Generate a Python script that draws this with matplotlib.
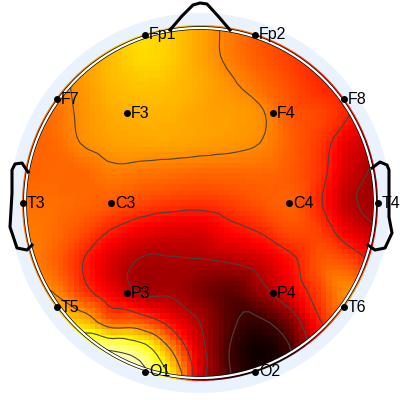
import numpy as np
import matplotlib
matplotlib.use("Agg")
import matplotlib.pyplot as plt
import matplotlib.tri as mtri
from matplotlib.patches import Circle

channels = ["Fp1", "Fp2", "F7", "F3", "F4", "F8", "T3", "C3", "C4", "T4", "T5", "P3", "P4", "T6", "O1", "O2"]
chan_x = [145, 255, 57, 127, 273, 344, 23, 111, 289, 378, 57, 127, 273, 344, 145, 255]
chan_y = [35, 35, 99, 113, 113, 99, 203, 203, 203, 203, 307, 293, 293, 307, 372, 372]

grid_x = [20, 50, 80, 110, 140, 170, 200, 230, 260, 290, 320, 350, 380]
grid_y = [23, 53, 83, 113, 143, 173, 203, 233, 263, 293, 323, 353, 383]
# activity, rows run top to bottom, scaled to the colormap
activity = [
    [.56, .56, .60, .65, .69, .67, .61, .55, .50, .46, .42, .40, .36],
    [.56, .56, .60, .65, .69, .67, .61, .55, .50, .46, .42, .40, .36],
    [.53, .53, .59, .64, .66, .65, .62, .58, .53, .48, .43, .40, .32],
    [.52, .53, .58, .62, .63, .63, .61, .60, .58, .50, .47, .41, .28],
    [.51, .52, .57, .60, .61, .61, .60, .59, .57, .51, .45, .33, .26],
    [.51, .52, .52, .55, .54, .53, .52, .52, .52, .50, .44, .30, .22],
    [.53, .53, .52, .50, .47, .45, .44, .46, .49, .51, .42, .27, .22],
    [.55, .53, .48, .40, .34, .31, .31, .37, .41, .47, .46, .35, .26],
    [.57, .52, .42, .31, .24, .24, .24, .25, .29, .38, .49, .48, .38],
    [.62, .58, .46, .35, .245, .24, .18, .13, .21, .33, .46, .57, .45],
    [.76, .72, .66, .52, .50, .38, .25, .11, .07, .17, .40, .50, .45],
    [.85, .85, .87, .91, .84, .60, .30, .085, .01, .08, .32, .40, .40],
    [.98, .98, .98, .98, .98, .75, .30, .10, .03, .10, .30, .40, .40],
]
contour_levels = [.09, .25, .41, .57, .73, .89]

nose_x = [170, 182, 193, 200, 207, 218, 230]
nose_y = [30, 16, 5, 3, 4, 16, 30]
ear_left_x = [28, 22, 15, 12, 12, 11, 10, 17, 27, 32]
ear_left_y = [172, 163, 164, 170, 193, 210, 227, 248, 250, 245]
ear_right_x = [372, 380, 387, 389, 389, 392, 385, 375, 368]
ear_right_y = [168, 162, 165, 170, 217, 233, 248, 250, 245]


def head_patch(ax, radius, **kwargs):
    patch = Circle((200, 203), radius, transform=ax.transData, **kwargs)
    ax.add_patch(patch)
    return patch


plt.rcParams["font.family"] = ["Liberation Sans", "DejaVu Sans"]
fig = plt.figure(figsize=(4, 4), dpi=100)
ax = fig.add_axes([0, 0, 1, 1])

head_patch(ax, 190, facecolor="#eaf3fd", edgecolor="none", zorder=1)

# let matplotlib's cubic tri interpolator fill in the pixel grid of the map
gx, gy = np.meshgrid(np.array(grid_x, dtype=float), np.array(grid_y, dtype=float))
tri = mtri.Triangulation(gx.ravel(), gy.ravel())
interp = mtri.CubicTriInterpolator(tri, np.array(activity).ravel(), kind="geom")
cell_x = np.linspace(20.5, 379.5, 67)
cell_y = np.linspace(23.5, 382.5, 67)
mx, my = np.meshgrid(cell_x, cell_y)
field = np.clip(interp(mx, my).filled(0.5), 0, 1)

im = ax.imshow(field, cmap="hot", vmin=0, vmax=1, interpolation="nearest", aspect="auto", zorder=2,
               extent=(20, 380, 383, 23))
im.set_clip_path(Circle((200, 203), 178, transform=ax.transData))

cs = ax.contour(mx, my, field, levels=contour_levels, colors="#444444", linewidths=0.8, zorder=3)
cs.set_clip_path(Circle((200, 203), 175, transform=ax.transData))

head_patch(ax, 175, facecolor="none", edgecolor="black", linewidth=2.6, zorder=4)
head_patch(ax, 175, facecolor="none", edgecolor="white", linewidth=1.6, zorder=5)

ax.plot(nose_x, nose_y, color="black", lw=2.2, zorder=6)
ax.plot(ear_left_x, ear_left_y, color="black", lw=2.2, zorder=6)
ax.plot(ear_right_x, ear_right_y, color="black", lw=2.2, zorder=6)

ax.plot(chan_x, chan_y, "o", color="black", ms=5, mec="none", zorder=7)
for name, x, y in zip(channels, chan_x, chan_y):
    ax.text(x + 4, y, name, fontsize=11.5, color="black", va="center", ha="left", zorder=8)

ax.set_xlim(0, 400)
ax.set_ylim(400, 0)
ax.axis("off")
fig.savefig("out.png", dpi=100)
